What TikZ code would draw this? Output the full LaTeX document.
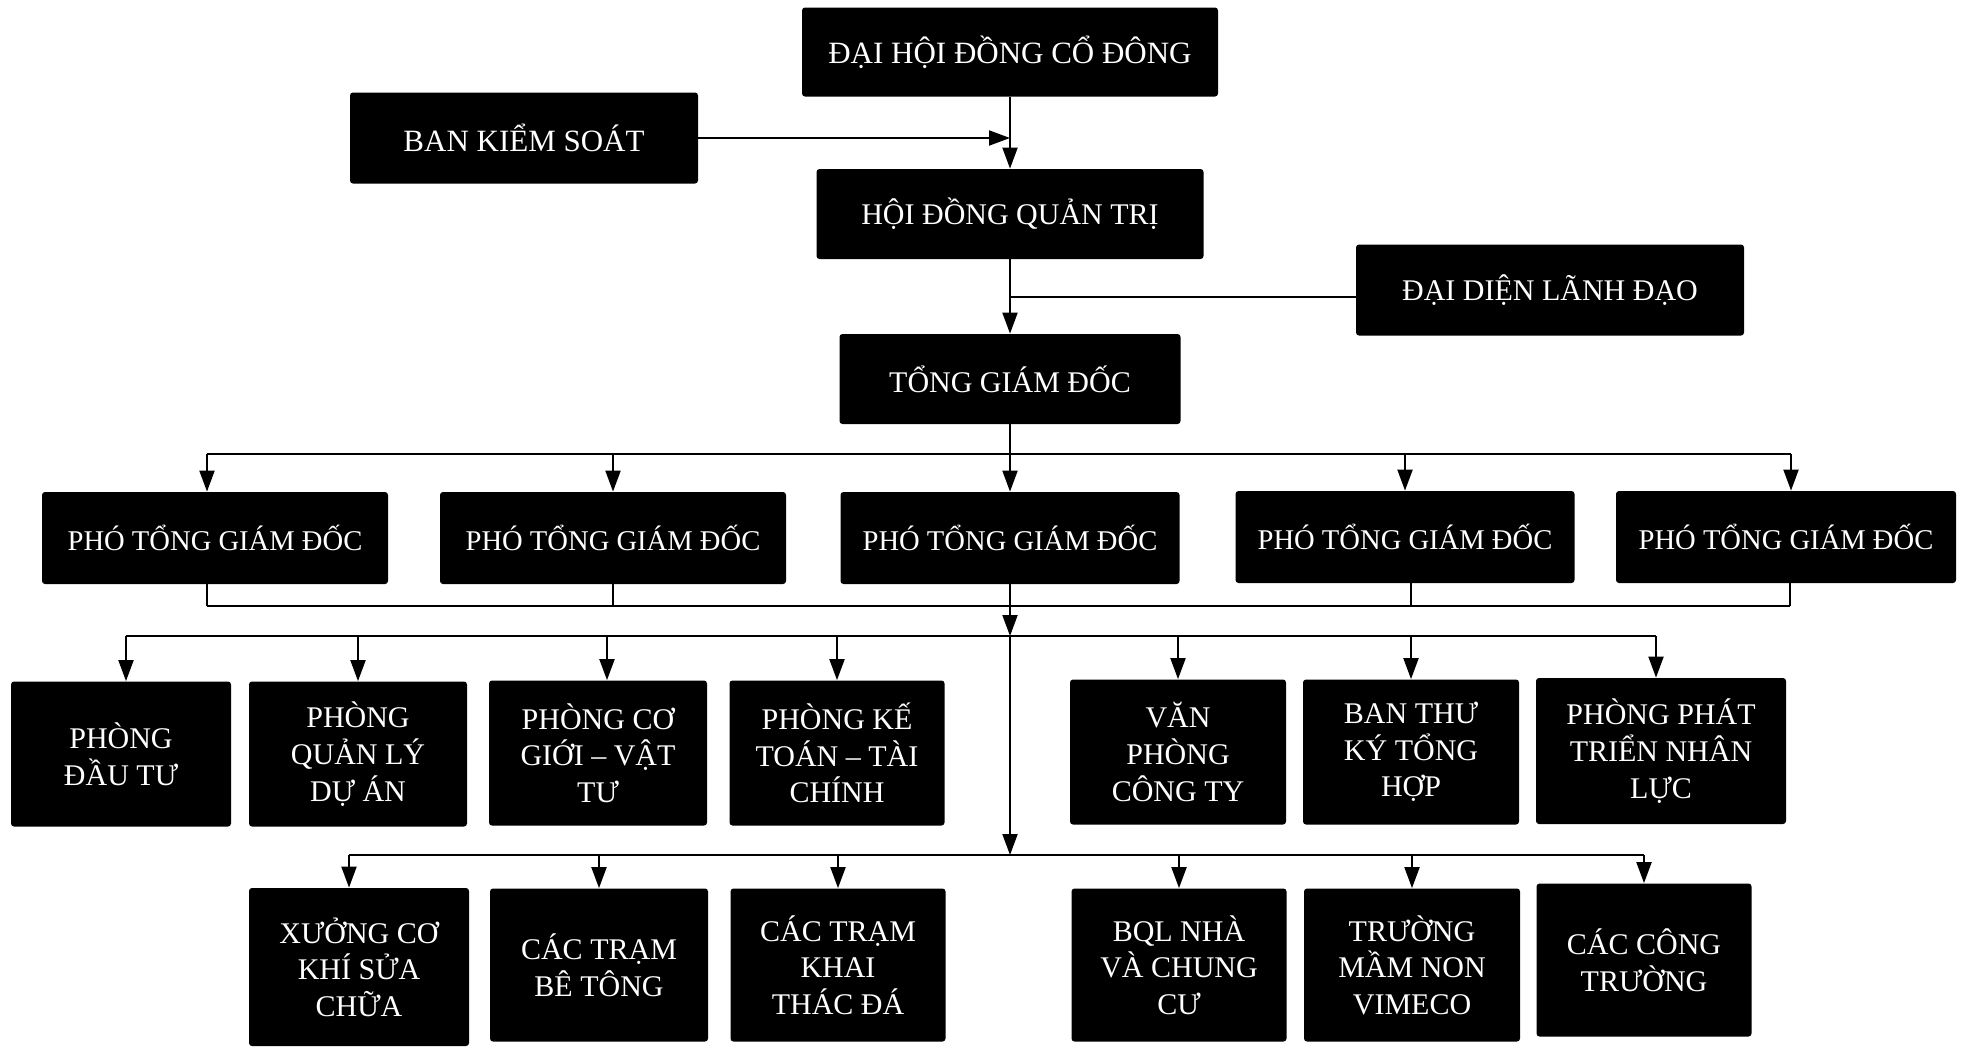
\documentclass[tikz,border=0pt]{standalone}
\usepackage{fontspec}
\setmainfont{Liberation Serif}
\usetikzlibrary{arrows.meta,calc}
\begin{document}
\begin{tikzpicture}[x=0.5pt,y=-0.5pt,
  bx/.style n args={2}{fill=black, text=white, rounded corners=1.5pt,
    minimum width=#1*0.5pt, minimum height=#2*0.5pt, inner sep=0pt,
    align=center, font=\fontsize{15pt}{18.3pt}\selectfont},
  small/.style={font=\fontsize{14.3pt}{18pt}\selectfont},
  big/.style={font=\fontsize{15.5pt}{18.6pt}\selectfont},
  ln/.style={line width=1pt, draw=black},
  arr/.style={ln, -{Triangle[length=10.5pt,width=7.5pt]}}]
\fill[white] (0,0) rectangle (1963,1046);
\useasboundingbox (0,0) rectangle (1963,1046);

% top levels
\node[bx={416}{89},big] (dhd) at (1010,52) {ĐẠI HỘI ĐỒNG CỔ ĐÔNG};
\node[bx={348}{91},big] (bks) at (524,138) {BAN KIỂM SOÁT};
\node[bx={387}{90}] (hdqt) at (1010,214) {HỘI ĐỒNG QUẢN TRỊ};
\node[bx={388}{91}] (ddld) at (1550,290) {ĐẠI DIỆN LÃNH ĐẠO};
\node[bx={341}{90}] (tgd) at (1010,379) {TỔNG GIÁM ĐỐC};

% deputies
\node[bx={346}{92},small] (pgd1) at (215,538) {PHÓ TỔNG GIÁM ĐỐC};
\node[bx={346}{92},small] (pgd2) at (613,538) {PHÓ TỔNG GIÁM ĐỐC};
\node[bx={339}{92},small] (pgd3) at (1010,538) {PHÓ TỔNG GIÁM ĐỐC};
\node[bx={339}{92},small] (pgd4) at (1405,537) {PHÓ TỔNG GIÁM ĐỐC};
\node[bx={340}{92},small] (pgd5) at (1786,537) {PHÓ TỔNG GIÁM ĐỐC};

% departments
\node[bx={220}{145}] (d1) at (121,754) {PHÒNG\\ĐẦU TƯ};
\node[bx={218}{145}] (d2) at (358,754) {PHÒNG\\QUẢN LÝ\\DỰ ÁN};
\node[bx={218}{145}] (d3) at (598,753) {PHÒNG CƠ\\GIỚI – VẬT\\TƯ};
\node[bx={215}{145}] (d4) at (837,753) {PHÒNG KẾ\\TOÁN – TÀI\\CHÍNH};
\node[bx={216}{145}] (d5) at (1178,752) {VĂN\\PHÒNG\\CÔNG TY};
\node[bx={216}{145}] (d6) at (1411,752) {BAN THƯ\\KÝ TỔNG\\HỢP};
\node[bx={250}{146}] (d7) at (1661,751) {PHÒNG PHÁT\\TRIỂN NHÂN\\LỰC};

% units
\node[bx={220}{158}] (b1) at (359,967) {XƯỞNG CƠ\\KHÍ SỬA\\CHỮA};
\node[bx={218}{153}] (b2) at (599,965) {CÁC TRẠM\\BÊ TÔNG};
\node[bx={215}{153}] (b3) at (838,965) {CÁC TRẠM\\KHAI\\THÁC ĐÁ};
\node[bx={215}{153}] (b4) at (1179,965) {BQL NHÀ\\VÀ CHUNG\\CƯ};
\node[bx={216}{153}] (b5) at (1412,965) {TRƯỜNG\\MẦM NON\\VIMECO};
\node[bx={215}{153}] (b6) at (1644,960) {CÁC CÔNG\\TRƯỜNG};

% connectors top
\draw[arr] (dhd.south) -- (hdqt.north);
\draw[arr] (bks.east) -- (bks.east -| dhd.south);
\draw[arr] (hdqt.south) -- (tgd.north);
\coordinate (j2) at ($(hdqt.south)!0.5!(tgd.north)$);
\draw[ln] (j2) -- (j2 -| ddld.west);
\draw[arr] (tgd.south) -- (pgd3.north);

% bus to deputies
\coordinate (busA) at (0,454);
\draw[ln] ([xshift=-4pt]pgd1.north |- busA) -- ([xshift=2.5pt]pgd5.north |- busA);
\draw[arr] ([xshift=-4pt]pgd1.north |- busA) -- ([xshift=-4pt]pgd1.north);
\draw[arr] (pgd2.north |- busA) -- (pgd2.north);
\draw[arr] (pgd4.north |- busA) -- (pgd4.north);
\draw[arr] ([xshift=2.5pt]pgd5.north |- busA) -- ([xshift=2.5pt]pgd5.north);

% collector from deputies
\coordinate (busC) at (0,606);
\draw[ln] ([xshift=-4pt]pgd1.south |- busC) -- ([xshift=2pt]pgd5.south |- busC);
\draw[ln] ([xshift=-4pt]pgd1.south) -- ([xshift=-4pt]pgd1.south |- busC);
\draw[ln] (pgd2.south) -- (pgd2.south |- busC);
\draw[ln] ([xshift=3pt]pgd4.south) -- ([xshift=3pt]pgd4.south |- busC);
\draw[ln] ([xshift=2pt]pgd5.south) -- ([xshift=2pt]pgd5.south |- busC);

% bus to departments
\coordinate (busB) at (0,636);
\draw[arr] (pgd3.south) -- (pgd3.south |- busB);
\draw[ln] ([xshift=2.5pt]d1.north |- busB) -- ([xshift=-2.5pt]d7.north |- busB);
\draw[arr] ([xshift=2.5pt]d1.north |- busB) -- ([xshift=2.5pt]d1.north);
\draw[arr] (d2.north |- busB) -- (d2.north);
\draw[arr] ([xshift=4.5pt]d3.north |- busB) -- ([xshift=4.5pt]d3.north);
\draw[arr] (d4.north |- busB) -- (d4.north);
\draw[arr] (d5.north |- busB) -- (d5.north);
\draw[arr] (d6.north |- busB) -- (d6.north);
\draw[arr] ([xshift=-2.5pt]d7.north |- busB) -- ([xshift=-2.5pt]d7.north);

% bus to units
\coordinate (busD) at (0,855);
\draw[arr] (pgd3.south |- busB) -- (pgd3.south |- busD);
\draw[ln] ([xshift=-5pt]b1.north |- busD) -- (b6.north |- busD);
\draw[arr] ([xshift=-5pt]b1.north |- busD) -- ([xshift=-5pt]b1.north);
\draw[arr] (b2.north |- busD) -- (b2.north);
\draw[arr] (b3.north |- busD) -- (b3.north);
\draw[arr] (b4.north |- busD) -- (b4.north);
\draw[arr] (b5.north |- busD) -- (b5.north);
\draw[arr] (b6.north |- busD) -- (b6.north);
\end{tikzpicture}
\end{document}
